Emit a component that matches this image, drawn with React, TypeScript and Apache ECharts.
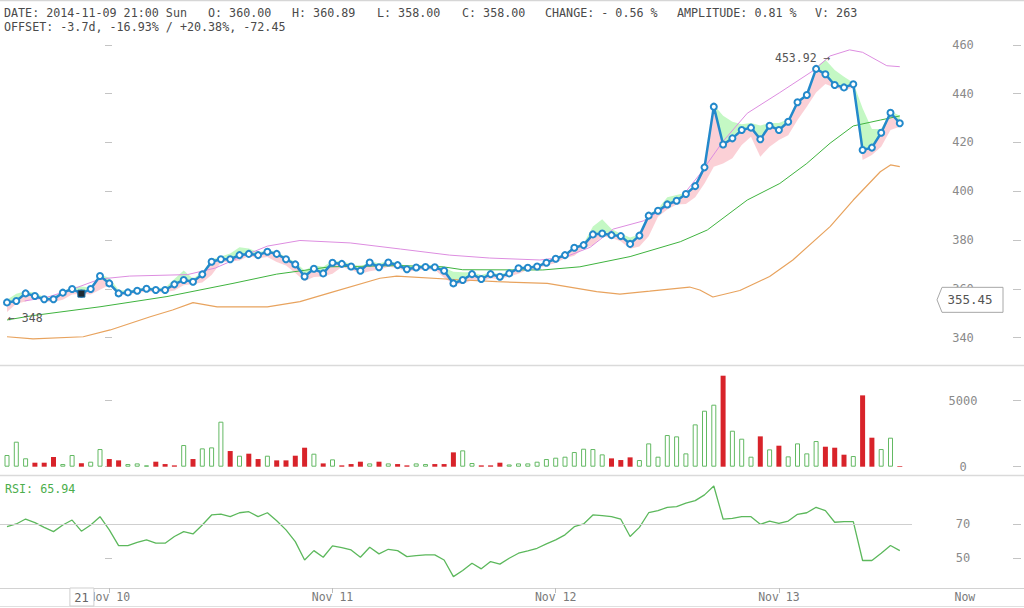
import React, { useEffect, useRef } from "react";
import * as echarts from "echarts";

const MONO = "'DejaVu Sans Mono', 'Liberation Mono', monospace";

// ---- DATA (hourly, index 0 = 2014-11-09 13:00) ----
const closes = [
  354.4, 355.0, 358.1, 357.0, 355.7, 355.7, 358.4, 359.9, 358.0, 359.9,
  365.2, 362.2, 358.1, 358.5, 359.2, 360.0, 359.5, 359.5, 361.8, 363.6,
  362.9, 365.9, 371.1, 372.1, 372.1, 373.8, 374.3, 373.8, 375.2, 374.3,
  372.1, 370.0, 365.0, 368.2, 366.3, 370.7, 370.2, 369.1, 367.4, 370.8,
  368.8, 370.8, 369.7, 368.0, 368.7, 368.9, 368.8, 367.4, 362.2, 363.6,
  366.0, 364.0, 366.0, 364.9, 366.3, 368.4, 368.6, 369.1, 370.7, 372.3,
  373.8, 376.8, 377.9, 382.3, 382.7, 382.0, 381.6, 378.4, 381.8, 390.0,
  392.0, 394.6, 396.1, 398.9, 402.1, 409.8, 434.7, 419.2, 421.7, 425.1,
  426.1, 421.3, 426.9, 425.1, 428.5, 436.5, 439.5, 450.2, 448.0, 443.6,
  442.6, 443.9, 416.9, 417.9, 424.0, 432.2, 427.9,
];
const highs = [
  355.5, 358.0, 359.0, 358.4, 356.6, 356.8, 358.9, 360.6, 360.89, 360.5,
  365.8, 364.5, 359.5, 359.2, 359.9, 360.6, 360.3, 360.4, 364.0, 367.5,
  364.2, 366.8, 372.0, 373.2, 374.5, 377.0, 376.5, 375.0, 375.8, 375.2,
  373.0, 371.0, 367.5, 369.6, 369.0, 371.5, 371.2, 370.3, 368.8, 371.5,
  370.4, 371.5, 370.6, 369.2, 369.4, 369.6, 369.8, 368.6, 367.0, 366.8,
  366.8, 365.6, 366.8, 366.0, 366.9, 368.9, 369.2, 369.6, 371.2, 372.8,
  374.4, 377.3, 378.6, 385.5, 388.5, 384.5, 382.6, 381.0, 382.3, 390.6,
  392.8, 397.5, 398.5, 399.4, 402.6, 410.3, 435.5, 431.0, 428.5, 427.5,
  428.0, 427.0, 428.0, 428.0, 429.5, 437.0, 440.0, 451.0, 453.92, 449.7,
  447.0, 444.5, 434.0, 425.5, 425.5, 432.8, 431.0,
];
const lows = [
  350.5, 353.8, 354.8, 356.2, 354.8, 354.6, 355.5, 357.6, 358.0, 357.6,
  359.6, 361.5, 357.2, 357.6, 358.3, 358.9, 358.6, 358.6, 359.3, 361.4,
  361.9, 362.6, 365.6, 370.8, 371.2, 371.6, 373.4, 372.5, 373.0, 371.0,
  369.5, 366.5, 363.2, 364.8, 365.0, 366.2, 368.9, 367.8, 366.2, 367.2,
  367.8, 369.0, 368.5, 366.9, 367.6, 367.9, 367.8, 364.5, 361.8, 362.0,
  363.5, 363.0, 364.3, 363.9, 365.0, 366.2, 367.8, 368.2, 369.5, 370.6,
  372.5, 373.5, 376.6, 377.8, 381.5, 380.8, 379.5, 376.4, 377.3, 381.5,
  389.5, 392.5, 394.6, 394.8, 397.5, 403.2, 410.1, 411.4, 413.5, 419.0,
  422.4, 414.2, 418.3, 421.0, 423.0, 429.2, 434.7, 440.5, 444.0, 442.6,
  441.4, 442.5, 412.8, 414.9, 418.3, 425.1, 426.5,
];
const volumes = [
  886, 1894, 637, 303, 303, 733, 200, 886, 263, 379,
  1338, 580, 480, 200, 250, 100, 379, 200, 100, 1641,
  580, 1389, 1464, 3409, 1187, 833, 985, 580, 833, 480,
  480, 833, 1439, 985, 250, 556, 100, 200, 379, 250,
  379, 250, 200, 100, 250, 200, 200, 200, 1086, 1237,
  278, 100, 100, 303, 170, 250, 250, 379, 580, 682,
  758, 1111, 1363, 1338, 934, 631, 505, 707, 505, 1767,
  758, 2399, 2298, 1010, 3207, 4242, 4697, 6894, 2727, 2121,
  758, 2298, 1313, 1591, 783, 1767, 1010, 1944, 1515, 1439,
  909, 808, 5404, 2197, 1338, 2197, 50,
];
const volDir = [
  "u", "u", "u", "d", "d", "d", "u", "u", "d", "u",
  "u", "d", "d", "u", "u", "u", "d", "d", "d", "u",
  "d", "u", "u", "u", "d", "u", "d", "d", "u", "d",
  "d", "d", "d", "u", "d", "u", "d", "d", "d", "u",
  "d", "u", "d", "d", "u", "u", "d", "d", "d", "u",
  "u", "d", "d", "d", "u", "u", "u", "u", "u", "u",
  "u", "u", "u", "u", "u", "d", "d", "d", "u", "u",
  "u", "u", "u", "u", "u", "u", "u", "d", "u", "u",
  "u", "d", "u", "d", "u", "u", "u", "u", "d", "d",
  "d", "u", "d", "d", "u", "u", "d",
];
const rsi = [
  68.6, 70.2, 73.1, 71.0, 68.2, 65.7, 69.6, 72.5, 65.94, 69.6,
  74.5, 66.7, 57.5, 57.5, 59.4, 60.8, 58.9, 58.9, 62.8, 65.7,
  64.3, 69.6, 75.5, 76.0, 74.5, 76.8, 77.4, 74.5, 76.8, 72.1,
  66.7, 59.8, 49.0, 54.5, 50.6, 57.3, 56.3, 54.9, 50.6, 56.5,
  52.6, 55.3, 54.5, 51.0, 51.6, 52.0, 52.0, 49.0, 39.2, 42.8,
  47.1, 43.8, 48.1, 46.6, 50.0, 53.0, 54.4, 55.9, 58.5, 60.8,
  63.8, 68.6, 70.2, 75.5, 75.1, 74.5, 73.0, 62.8, 68.2, 76.8,
  78.0, 80.0, 80.4, 82.4, 83.9, 87.3, 92.5, 73.1, 73.5, 74.5,
  74.5, 70.0, 71.9, 70.6, 71.9, 75.9, 76.8, 80.0, 78.0, 71.2,
  71.6, 71.6, 48.7, 48.7, 53.0, 57.5, 54.5,
];
// smooth indicator lines: [hour index, value]
const upperBand = [
  [1.9, 355.0], [4.3, 356.5], [6.8, 359.5], [10.0, 364.0], [13.2, 365.2], [19.4, 365.8],
  [22.4, 368.5], [25.1, 373.0], [28.0, 377.5], [31.5, 379.8], [36.9, 378.8], [42.3, 376.3],
  [47.6, 373.8], [51.9, 372.6], [57.3, 371.8], [60.0, 373.0], [62.7, 377.0], [65.2, 384.5],
  [68.4, 387.8], [72.4, 397.0], [74.5, 407.0], [77.0, 420.5], [79.6, 432.0], [83.1, 440.5],
  [86.7, 449.5], [88.5, 455.5], [90.6, 458.0], [92.0, 457.0], [94.6, 451.5], [96.0, 451.1],
];
const midBand = [
  [0, 347.2], [2.8, 349.0], [10.0, 352.6], [17.2, 356.8], [24.3, 362.2], [29.0, 366.0],
  [34.7, 369.0], [42.3, 369.5], [46.9, 369.0], [49.0, 367.8], [57.6, 367.7], [61.6, 369.0],
  [67.0, 373.2], [72.4, 379.3], [75.3, 384.1], [79.6, 396.4], [83.1, 403.2], [86.0, 411.4],
  [88.5, 419.7], [91.0, 426.8], [93.9, 429.2], [96.0, 430.9],
];
const lowerBand = [
  [0, 340.3], [2.8, 339.4], [8.2, 340.3], [11.1, 343.1], [15.4, 348.5], [17.8, 351.3],
  [20.0, 354.3], [22.6, 352.6], [28.0, 352.6], [31.5, 354.7], [34.7, 358.3], [40.1, 364.3],
  [41.9, 365.2], [49.0, 363.6], [52.7, 362.9], [58.1, 362.2], [63.4, 358.8], [65.9, 357.8],
  [69.1, 359.0], [73.4, 360.7], [74.5, 359.5], [75.9, 356.6], [78.8, 359.3], [82.0, 365.0],
  [84.5, 371.8], [88.5, 385.5], [91.0, 396.4], [93.9, 408.0], [95.0, 410.8], [96.0, 410.1],
];
const highMark = [88, 453.92];
const lowMark = [0, 348];
const cursorIndex = 8;
const cursorHourLabel = "21";
const cursorPrice = 355.45;

const xTickPos = [11, 35, 59, 83];
const xLabelPos = [11, 35, 59, 83, 103];
const xLabels = ["Nov 10", "Nov 11", "Nov 12", "Nov 13", "Now"];
const priceTicks = [340, 360, 380, 400, 420, 440, 460];
const volTicks = [0, 5000];
const rsiTicks = [50, 70];
const rsiGuide = 70;

const headerLine1 = [
  "DATE: 2014-11-09 21:00 Sun",
  "O: 360.00",
  "H: 360.89",
  "L: 358.00",
  "C: 358.00",
  "CHANGE: - 0.56 %",
  "AMPLITUDE: 0.81 %",
  "V: 263",
];
const headerLine2 = "OFFSET: -3.7d, -16.93% / +20.38%, -72.45";
const rsiTitle = "RSI: 65.94";

export default function App() {
  const ref = useRef<HTMLDivElement>(null);
  useEffect(() => {
    const el = ref.current as HTMLDivElement;
    const chart = echarts.init(el, null, { renderer: "svg" });

    const W = 1024;
    const PX_PER_HOUR = 9.3;
    const FIRST_X = 7;
    const xMin = -FIRST_X / PX_PER_HOUR;
    const xMax = (W - FIRST_X) / PX_PER_HOUR;
    const AXIS_X = 912;
    const guideEnd = (AXIS_X - FIRST_X) / PX_PER_HOUR;

    const BLUE = "#2389cb";
    const grids = [
      { left: 0, right: 0, top: 36, height: 329 },
      { left: 0, right: 0, top: 366, height: 109 },
      { left: 0, right: 0, top: 476, height: 112 },
    ];
    const yRanges = [
      { min: 328.72, max: 463.69, ticks: priceTicks },
      { min: -628.8, max: 7628.8, ticks: volTicks },
      { min: 32.53, max: 98.41, ticks: rsiTicks },
    ];

    const yAxes: any[] = [];
    yRanges.forEach((r, g) => {
      yAxes.push({
        type: "value", gridIndex: g, position: "right", offset: -(W - AXIS_X),
        min: r.min, max: r.max,
        axisLine: { show: false },
        axisTick: { show: true, inside: true, length: 7, customValues: r.ticks, lineStyle: { color: "#c4c4c4" } },
        axisLabel: {
          show: true, customValues: r.ticks, margin: 51, align: "center", color: "#8a8a8a", fontSize: 12, fontFamily: MONO,
          formatter: (v: number) => String(v),
        },
        splitLine: { show: false },
      });
      yAxes.push({
        type: "value", gridIndex: g, position: "right", offset: -11,
        min: r.min, max: r.max,
        axisLine: { show: false },
        axisTick: { show: true, inside: false, length: 8, customValues: r.ticks, lineStyle: { color: "#c4c4c4" } },
        axisLabel: { show: false },
        splitLine: { show: false },
      });
    });

    const xAxes: any[] = [0, 1, 2].map((g) => ({
      type: "value", gridIndex: g, min: xMin, max: xMax,
      show: g === 2,
      axisLine: { show: true, lineStyle: { color: "#d2d2d2", width: 1 } },
      axisTick: { show: true, customValues: xTickPos, length: 5, lineStyle: { color: "#bdbdbd" } },
      axisLabel: {
        show: true, customValues: xLabelPos, margin: 3, color: "#7a7a7a", fontSize: 11.5, fontFamily: MONO,
        formatter: (v: number) => {
          const k = xLabelPos.findIndex((p) => Math.abs(p - v) < 0.01);
          return k >= 0 ? xLabels[k] : "";
        },
      },
      splitLine: { show: false },
    }));

    const option: any = {
      animation: false,
      backgroundColor: "#ffffff",
      grid: grids,
      xAxis: xAxes,
      yAxis: yAxes,
      series: [
        {
          type: "custom", xAxisIndex: 0, yAxisIndex: 0, silent: true, z: 1,
          data: [[0, 400]], encode: { x: 0, y: 1 },
          renderItem: (_p: any, api: any) => {
            const hi = highs.map((v, i) => api.coord([i, v]));
            const cl = closes.map((v, i) => api.coord([i, v]));
            const lo = lows.map((v, i) => api.coord([i, v]));
            return {
              type: "group",
              children: [
                { type: "polygon", shape: { points: hi.concat(cl.slice().reverse()) }, style: { fill: "rgba(176,245,176,0.75)" } },
                { type: "polygon", shape: { points: cl.concat(lo.slice().reverse()) }, style: { fill: "rgba(250,196,204,0.8)" } },
              ],
            };
          },
        },
        { type: "line", xAxisIndex: 0, yAxisIndex: 0, data: upperBand, showSymbol: false, silent: true, z: 2, lineStyle: { color: "#dd8de0", width: 1 } },
        { type: "line", xAxisIndex: 0, yAxisIndex: 0, data: midBand, showSymbol: false, silent: true, z: 2, lineStyle: { color: "#3fb33f", width: 1 } },
        { type: "line", xAxisIndex: 0, yAxisIndex: 0, data: lowerBand, showSymbol: false, silent: true, z: 2, lineStyle: { color: "#e8a35e", width: 1.2 } },
        {
          type: "line", xAxisIndex: 0, yAxisIndex: 0, z: 3,
          data: closes.map((v, i) => [i, v]),
          symbol: "emptyCircle", symbolSize: 6, showSymbol: true,
          itemStyle: { color: BLUE, borderWidth: 1.8 },
          lineStyle: { color: BLUE, width: 2.5 },
          markPoint: {
            silent: true,
            data: [
              {
                coord: [cursorIndex, closes[cursorIndex]], symbol: "rect", symbolSize: 7,
                itemStyle: { color: "#1d2a33", borderColor: "#1b6fa8", borderWidth: 1 }, label: { show: false },
              },
              {
                coord: [highMark[0], highMark[1]], symbol: "circle", symbolSize: 0,
                label: { show: true, formatter: highMark[1].toFixed(2) + " \u2192", position: "inside", align: "right", offset: [5, -2], color: "#555", fontSize: 11.5, fontFamily: MONO },
              },
              {
                coord: [lowMark[0], lowMark[1]], symbol: "circle", symbolSize: 0,
                label: { show: true, formatter: "\u2190 " + lowMark[1], position: "inside", align: "left", offset: [1, 0], color: "#555", fontSize: 11.5, fontFamily: MONO },
              },
            ],
          },
        },
        {
          type: "bar", xAxisIndex: 1, yAxisIndex: 2, barWidth: 5, silent: true,
          data: volumes.map((v, i) => ({
            value: [i, v],
            itemStyle: volDir[i] === "u"
              ? { color: "#ffffff", borderColor: "#63b963", borderWidth: 1 }
              : { color: "#d8232a" },
          })),
        },
        {
          type: "line", xAxisIndex: 2, yAxisIndex: 4, showSymbol: false, silent: true,
          data: rsi.map((v, i) => [i, v]),
          lineStyle: { color: "#5cb85c", width: 1.3 },
          markLine: {
            silent: true, symbol: ["none", "none"], label: { show: false },
            lineStyle: { color: "#cfcfcf", width: 1, type: "solid" },
            data: [[{ coord: [xMin, rsiGuide] }, { coord: [guideEnd, rsiGuide] }]],
          },
        },
      ],
    };
    chart.setOption(option);

    const pt = chart.convertToPixel({ gridIndex: 0 }, [cursorIndex, cursorPrice]) as number[];
    const cx = pt[0];
    const cy = pt[1];
    const txt = (id: string, x: number, y: number, text: string, fill: string, size: number, align = "left") => ({
      type: "text", id, x, y, z: 100,
      style: {
        text, fill, fontSize: size, fontFamily: MONO,
        align, verticalAlign: "middle", textAlign: align, textVerticalAlign: "middle",
      },
    });
    const headerX = [4, 208, 292, 377, 462, 545, 677, 815];
    const sepLine = (id: string, y: number, c: string, w: number) => ({
      type: "line", id, z: 90, shape: { x1: 0, y1: y, x2: W, y2: y }, style: { stroke: c, lineWidth: w },
    });
    const elements: any[] = [
      sepLine("s0", 0.5, "#d6d6d6", 1.5),
      sepLine("s1", 365.5, "#dadada", 1.5),
      sepLine("s2", 475.5, "#dadada", 1.5),
      sepLine("s3", 606.5, "#e0e0e0", 1),
      ...headerLine1.map((t, k) => txt("h1_" + k, headerX[k], 13, t, "#4a4a4a", 11.7)),
      txt("h2", 4, 27, headerLine2, "#4a4a4a", 11.7),
      txt("rsiT", 5, 489, rsiTitle, "#4cae4c", 11.7),
      {
        type: "rect", id: "cbox", z: 100,
        shape: { x: cx - 11.5, y: 588, width: 24, height: 18 },
        style: { fill: "#ffffff", stroke: "#cfcfcf", lineWidth: 1 },
      },
      txt("ctext", cx, 597.5, cursorHourLabel, "#666", 12, "center"),
      {
        type: "polygon", id: "pbox", z: 100,
        shape: { points: [[937, cy], [942, cy - 12.5], [1003, cy - 12.5], [1003, cy + 12.5], [942, cy + 12.5]] },
        style: { fill: "#ffffff", stroke: "#a8a8a8", lineWidth: 1 },
      },
      txt("ptext", 970, cy, cursorPrice.toFixed(2), "#555", 12.5, "center"),
    ];
    chart.setOption({ graphic: { elements } });

    return () => chart.dispose();
  }, []);
  return (
    <div
      ref={ref}
      style={{ position: "fixed", left: 0, top: 0, width: 1024, height: 608, background: "#fff" }}
    />
  );
}
